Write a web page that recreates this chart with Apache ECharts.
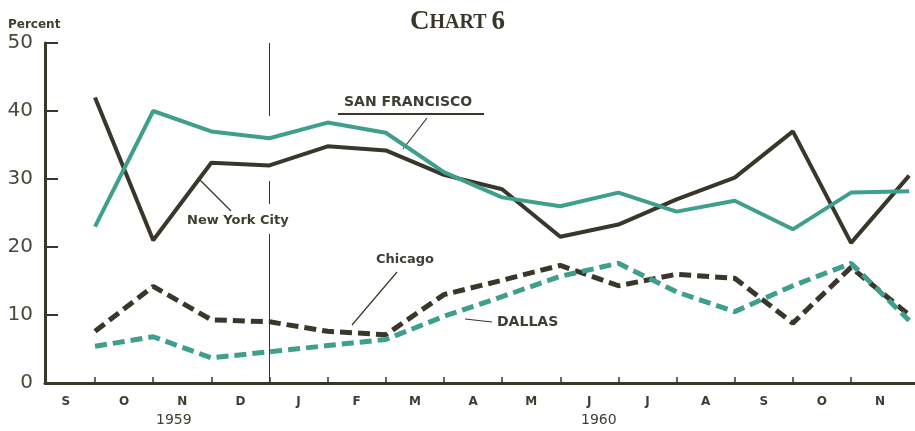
<!DOCTYPE html>
<html>
<head>
<meta charset="utf-8">
<script src="https://cdn.jsdelivr.net/npm/echarts@6/dist/echarts.min.js"></script>
<style>
  html, body { margin: 0; padding: 0; background: #fff; }
  #c1 { width: 915px; height: 431px; }
</style>
</head>
<body>
<div id="c1"></div>
<script>
// month letters, one per month slot (Sep 1959 .. Nov 1960)
var months = ['S', 'O', 'N', 'D', 'J', 'F', 'M', 'A', 'M', 'J', 'J', 'A', 'S', 'O', 'N'];
var yTicks = [0, 10, 20, 30, 40, 50];
// values are plotted at the end of each month (index 1 = end of Sep 1959)
var pointIdx = [1, 2, 3, 4, 5, 6, 7, 8, 9, 10, 11, 12, 13, 14, 15];
var sanFrancisco = [23, 40, 37, 36, 38.3, 36.8, 31, 27.3, 26, 28, 25.2, 26.8, 22.6, 28, 28.2];
var newYork = [42, 21, 32.4, 32, 34.8, 34.2, 30.6, 28.5, 21.5, 23.3, 27, 30.2, 37, 20.6, 30.5];
var chicago = [7.6, 14.2, 9.3, 9, 7.6, 7.1, 13, 15.1, 17.3, 14.3, 16, 15.4, 8.8, 17, 10];
var dallas = [5.4, 6.8, 3.7, 4.6, 5.5, 6.4, 9.8, 12.7, 15.7, 17.6, 13.4, 10.5, 14.3, 17.6, 9.2];

var dark = '#38372a';
var teal = '#3f9f8d';

function pairs(vals) {
    return vals.map(function (v, i) { return [pointIdx[i], v]; });
}

var labelPos = months.map(function (m, i) { return i + 0.5; });

var ec_c1 = echarts.init(document.getElementById('c1'));

var ec_c1_option = {
    backgroundColor: '#fff',
    animation: false,
    title: {
        text: '{a|C}{b|HART} {a|6}',
        left: 'center',
        top: 4,
        textStyle: {
            rich: {
                a: { fontFamily: 'Liberation Serif', fontWeight: 'bold', fontSize: 27, color: dark },
                b: { fontFamily: 'Liberation Serif', fontWeight: 'bold', fontSize: 20, color: dark }
            }
        }
    },
    grid: { left: 45, right: 0, top: 43, bottom: 48 },
    xAxis: {
        type: 'value',
        min: 0.14,
        max: 15.1,
        axisLine: { show: true, lineStyle: { color: dark, width: 3 } },
        axisTick: {
            show: true,
            inside: true,
            length: 6,
            lineStyle: { color: dark, width: 1.5 },
            customValues: [1, 2, 3, 4, 5, 6, 7, 8, 9, 10, 11, 12, 13, 14]
        },
        axisLabel: {
            customValues: labelPos,
            formatter: function (v) { return months[Math.floor(v)]; },
            margin: 13,
            fontFamily: 'DejaVu Sans',
            fontWeight: 'bold',
            fontSize: 12,
            color: '#3f3e32'
        },
        splitLine: { show: false }
    },
    yAxis: {
        type: 'value',
        min: yTicks[0],
        max: yTicks[yTicks.length - 1],
        interval: 10,
        axisLine: { show: true, lineStyle: { color: dark, width: 3 } },
        axisTick: { show: true, inside: true, length: 13, lineStyle: { color: dark, width: 2 } },
        axisLabel: {
            margin: 12,
            fontFamily: 'DejaVu Sans',
            fontSize: 20,
            color: '#4a493c'
        },
        splitLine: { show: false }
    },
    graphic: [
        { type: 'text', left: 8, top: 19, style: { text: 'Percent', font: 'bold 12px "DejaVu Sans"', fill: '#3f3e32' } },
        { type: 'text', left: 156, top: 413, style: { text: '1959', font: '14px "DejaVu Sans"', fill: '#3f3e32' } },
        { type: 'text', left: 581, top: 413, style: { text: '1960', font: '14px "DejaVu Sans"', fill: '#3f3e32' } },
        // San Francisco label, underline and leader
        { type: 'text', left: 344, top: 95, style: { text: 'SAN FRANCISCO', font: 'bold 14px "DejaVu Sans"', fill: '#3f3e32' } },
        { type: 'line', shape: { x1: 338, y1: 114, x2: 484, y2: 114 }, style: { stroke: dark, lineWidth: 2 } },
        { type: 'line', shape: { x1: 427, y1: 118, x2: 403, y2: 149 }, style: { stroke: dark, lineWidth: 1.2 } },
        // New York City
        { type: 'text', left: 187, top: 214, style: { text: 'New York City', font: 'bold 13px "DejaVu Sans"', fill: '#3f3e32' } },
        { type: 'line', shape: { x1: 198, y1: 178, x2: 231, y2: 211 }, style: { stroke: dark, lineWidth: 1.2 } },
        // Chicago
        { type: 'text', left: 376, top: 253, style: { text: 'Chicago', font: 'bold 13px "DejaVu Sans"', fill: '#3f3e32' } },
        { type: 'line', shape: { x1: 397, y1: 272, x2: 352, y2: 325 }, style: { stroke: dark, lineWidth: 1.2 } },
        // Dallas
        { type: 'text', left: 497, top: 315, style: { text: 'DALLAS', font: 'bold 14px "DejaVu Sans"', fill: '#3f3e32' } },
        { type: 'line', shape: { x1: 465, y1: 319, x2: 492, y2: 322 }, style: { stroke: dark, lineWidth: 1.2 } }
    ],
    series: [
        {
            name: 'Chicago',
            type: 'line',
            data: pairs(chicago),
            symbol: 'none',
            lineStyle: { color: dark, width: 5, type: [12, 6] },
            // year-end divider between December and January
            markLine: {
                silent: true,
                symbol: 'none',
                label: { show: false },
                lineStyle: { color: dark, width: 1, type: [73, 65, 23, 30, 200] },
                data: [[{ coord: [4, 50] }, { coord: [4, 0] }]]
            },
            z: 2
        },
        {
            name: 'Dallas',
            type: 'line',
            data: pairs(dallas),
            symbol: 'none',
            lineStyle: { color: teal, width: 5, type: [12, 6] },
            z: 2
        },
        {
            name: 'New York City',
            type: 'line',
            data: pairs(newYork),
            symbol: 'none',
            lineStyle: { color: dark, width: 4 },
            z: 3
        },
        {
            name: 'San Francisco',
            type: 'line',
            data: pairs(sanFrancisco),
            symbol: 'none',
            lineStyle: { color: teal, width: 4 },
            z: 3
        }
    ]
};

ec_c1.setOption(ec_c1_option);
</script>
</body>
</html>
